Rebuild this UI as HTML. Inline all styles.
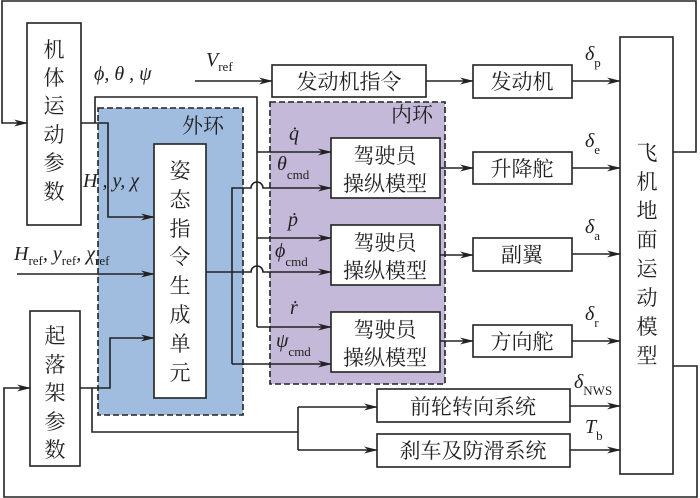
<!DOCTYPE html>
<html><head><meta charset="utf-8"><style>
html,body{margin:0;padding:0;background:#fff}
svg{display:block}
.cn{font-family:"Liberation Serif","Noto Serif CJK SC",serif;font-size:21px;fill:#222}
.it{font-family:"Liberation Serif",serif;font-style:italic;font-size:20px;fill:#222}
.sb{font-family:"Liberation Serif",serif;font-size:13px;fill:#222;font-style:normal}
</style></head><body>
<svg width="700" height="498" viewBox="0 0 700 498" xmlns="http://www.w3.org/2000/svg">
<defs><marker id="a" markerWidth="14" markerHeight="8" refX="13" refY="4" orient="auto" markerUnits="userSpaceOnUse"><path d="M0,0.5 L14,4 L0,7.5 L4,4 Z" fill="#222"/></marker></defs>
<g stroke="#222" stroke-width="1.6" fill="none">
<!-- loops -->
<rect x="98" y="108" width="145" height="307" fill="#a0bde0" stroke-dasharray="6,3"/>
<rect x="270" y="102" width="175" height="282" fill="#c4b9d9" stroke-dasharray="6,3"/>
<!-- boxes -->
<rect x="27" y="23" width="54" height="202" fill="#fff"/>
<rect x="30" y="311" width="50" height="155" fill="#fff"/>
<rect x="154" y="144" width="52" height="254" fill="#fff"/>
<rect x="272" y="65" width="154" height="32" fill="#fff"/>
<rect x="331" y="138" width="109" height="60" fill="#fff"/>
<rect x="331" y="225" width="109" height="60" fill="#fff"/>
<rect x="331" y="312" width="109" height="60" fill="#fff"/>
<rect x="473" y="65" width="99" height="33" fill="#fff"/>
<rect x="473" y="152" width="99" height="32" fill="#fff"/>
<rect x="473" y="238" width="99" height="33" fill="#fff"/>
<rect x="473" y="325" width="99" height="32" fill="#fff"/>
<rect x="620" y="37" width="53" height="437" fill="#fff"/>
<rect x="377" y="389" width="193" height="33" fill="#fff"/>
<rect x="377" y="434" width="193" height="33" fill="#fff"/>
<!-- feedback loops -->
<path d="M673,152 H696 V1 H2 V123 H27" marker-end="url(#a)"/>
<path d="M673,366 H697 V497 H4 V388 H30" marker-end="url(#a)"/>
<!-- body params -->
<path d="M81,123 H108 V217 H154" marker-end="url(#a)"/>
<path d="M95,123 V97 H257 V327"/>
<path d="M257,152 H331" marker-end="url(#a)"/>
<path d="M257,238 H331" marker-end="url(#a)"/>
<path d="M257,327 H331" marker-end="url(#a)"/>
<!-- commands -->
<path d="M232,364 V188 H251 a6,6 0 0 1 12,0 H331" marker-end="url(#a)"/>
<path d="M206,272 H251 a6,6 0 0 1 12,0 H331" marker-end="url(#a)"/>
<path d="M232,364 H331" marker-end="url(#a)"/>
<path d="M17,274 H154" marker-end="url(#a)"/>
<!-- landing gear -->
<path d="M80,388 H110 V338 H154" marker-end="url(#a)"/>
<path d="M92,388 V432 H298"/>
<path d="M298,407 V450"/>
<path d="M298,407 H377" marker-end="url(#a)"/>
<path d="M298,450 H377" marker-end="url(#a)"/>
<!-- engine -->
<path d="M195,81 H272" marker-end="url(#a)"/>
<path d="M426,81 H473" marker-end="url(#a)"/>
<path d="M440,168 H473" marker-end="url(#a)"/>
<path d="M440,255 H473" marker-end="url(#a)"/>
<path d="M440,341 H473" marker-end="url(#a)"/>
<path d="M572,81 H620" marker-end="url(#a)"/>
<path d="M572,168 H620" marker-end="url(#a)"/>
<path d="M572,254 H620" marker-end="url(#a)"/>
<path d="M572,341 H620" marker-end="url(#a)"/>
<path d="M570,406 H620" marker-end="url(#a)"/>
<path d="M570,450 H620" marker-end="url(#a)"/>
</g>
<!-- vertical texts -->
<g class="cn" text-anchor="middle">
<text x="54" y="57">机</text><text x="54" y="85">体</text><text x="54" y="113">运</text><text x="54" y="142">动</text><text x="54" y="170">参</text><text x="54" y="199">数</text>
<text x="55" y="343">起</text><text x="55" y="372">落</text><text x="55" y="400">架</text><text x="55" y="429">参</text><text x="55" y="457">数</text>
<text x="180" y="178">姿</text><text x="180" y="207">态</text><text x="180" y="236">指</text><text x="180" y="264">令</text><text x="180" y="293">生</text><text x="180" y="322">成</text><text x="180" y="351">单</text><text x="180" y="380">元</text>
<text x="647" y="160">飞</text><text x="647" y="189">机</text><text x="647" y="218">地</text><text x="647" y="247">面</text><text x="647" y="276">运</text><text x="647" y="305">动</text><text x="647" y="334">模</text><text x="647" y="363">型</text>
<text x="349" y="89">发动机指令</text>
<text x="522" y="89">发动机</text>
<text x="522" y="176">升降舵</text>
<text x="522" y="262">副翼</text>
<text x="522" y="349">方向舵</text>
<text x="473" y="414">前轮转向系统</text>
<text x="473" y="458">刹车及防滑系统</text>
<text x="385" y="163">驾驶员</text><text x="385" y="191">操纵模型</text>
<text x="385" y="250">驾驶员</text><text x="385" y="278">操纵模型</text>
<text x="385" y="337">驾驶员</text><text x="385" y="365">操纵模型</text>
<text x="203" y="133">外环</text>
<text x="412" y="122">内环</text>
</g>
<!-- math labels -->
<text class="it" x="94" y="80">ϕ, θ , ψ</text>
<text class="it" x="206" y="66">V<tspan class="sb" dy="5">ref</tspan></text>
<text class="it" x="83" y="187">H , y, χ</text>
<text class="it" x="14" y="260">H<tspan class="sb" dy="5">ref</tspan><tspan dy="-5">, y</tspan><tspan class="sb" dy="5">ref</tspan><tspan dy="-5">, χ</tspan><tspan class="sb" dy="5">ref</tspan></text>
<text class="it" x="289" y="140">q̇</text>
<text class="it" x="277" y="170">θ<tspan class="sb" dy="9">cmd</tspan></text>
<text class="it" x="288" y="226">ṗ</text>
<text class="it" x="275" y="257">ϕ<tspan class="sb" dy="9">cmd</tspan></text>
<text class="it" x="290" y="314">ṙ</text>
<text class="it" x="276" y="347">ψ<tspan class="sb" dy="9">cmd</tspan></text>
<text class="it" x="585" y="60">δ<tspan class="sb" dy="7">p</tspan></text>
<text class="it" x="585" y="147">δ<tspan class="sb" dy="7">e</tspan></text>
<text class="it" x="585" y="233">δ<tspan class="sb" dy="7">a</tspan></text>
<text class="it" x="585" y="320">δ<tspan class="sb" dy="7">r</tspan></text>
<text class="it" x="574" y="388">δ<tspan class="sb" dy="7">NWS</tspan></text>
<text class="it" x="585" y="433">T<tspan class="sb" dy="7">b</tspan></text>
</svg>
</body></html>
